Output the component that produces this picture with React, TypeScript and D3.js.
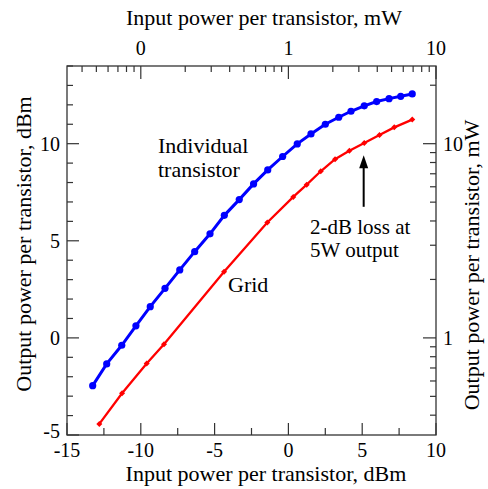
import * as d3 from 'd3'

// Input power (dBm) and output power (dBm)
const individualIn = [-13.26, -12.31, -11.29, -10.33, -9.36, -8.36, -7.36, -6.35, -5.31, -4.34, -3.33, -2.36, -1.4, -0.39, 0.6, 1.53, 2.5, 3.41, 4.24, 5.14, 5.98, 6.82, 7.61, 8.39]
const individualOut = [-2.46, -1.34, -0.38, 0.62, 1.61, 2.55, 3.5, 4.44, 5.36, 6.31, 7.12, 7.93, 8.65, 9.34, 9.99, 10.5, 11.0, 11.36, 11.67, 11.95, 12.17, 12.32, 12.44, 12.56]

const gridIn = [-12.81, -11.27, -9.6, -8.43, -4.36, -1.43, 0.33, 1.24, 2.19, 3.16, 4.13, 5.14, 6.17, 7.17, 8.39]
const gridOut = [-4.43, -2.85, -1.32, -0.33, 3.41, 5.94, 7.26, 7.89, 8.58, 9.2, 9.64, 10.03, 10.45, 10.84, 11.24]

// axis ticks
const dbmXTicks = [-15, -12.5, -10, -7.5, -5, -2.5, 0, 2.5, 5, 7.5, 10]
const dbmXLabels = [-15, -10, -5, 0, 5, 10]
const dbmYTicks = d3.range(-5, 15, 1)
const dbmYLabels = [-5, 0, 5, 10]
const mwTopTicks = [0.04, 0.05, 0.06, 0.07, 0.08, 0.09, 0.1, 0.2, 0.3, 0.4, 0.5, 0.6, 0.7, 0.8, 0.9, 1, 2, 3, 4, 5, 6, 7, 8, 9, 10]
const mwTopLabels = [
  { v: 0.1, t: '0' },
  { v: 1, t: '1' },
  { v: 10, t: '10' },
]
const mwRightTicks = [0.4, 0.5, 0.6, 0.7, 0.8, 0.9, 1, 2, 3, 4, 5, 6, 7, 8, 9, 10, 20]
const mwRightLabels = [1, 10]

// arrow annotation (dBm coords)
const arrowAt = { x: 5.1, from: 6.75, to: 9.4 }

const W = 488
const H = 489
const font = 'Liberation Serif, Times New Roman, serif'
const axisColor = '#333'

export default function App() {
  const left = 67
  const right = 436
  const top = 66
  const bottom = 435

  const x = d3.scaleLinear().domain([-15, 10]).range([left, right])
  const y = d3.scaleLinear().domain([-5, 14]).range([bottom, top])
  const xTop = d3.scaleLog().domain([Math.pow(10, -1.5), 10]).range([left, right])
  const yRight = d3.scaleLog().domain([Math.pow(10, -0.5), Math.pow(10, 1.4)]).range([bottom, top])

  const indPts = individualIn.map((v, i) => [v, individualOut[i]] as [number, number])
  const gridPts = gridIn.map((v, i) => [v, gridOut[i]] as [number, number])

  const line = d3
    .line<[number, number]>()
    .x((d) => x(d[0]))
    .y((d) => y(d[1]))

  const isMajor = (v: number) => Math.abs(Math.log10(v) - Math.round(Math.log10(v))) < 1e-6

  const ax = x(arrowAt.x)
  const ay1 = y(arrowAt.from)
  const ay2 = y(arrowAt.to)

  return (
    <svg
      width={W}
      height={H}
      style={{ position: 'absolute', left: 0, top: 0, background: '#fff' }}
      fontFamily={font}
    >
      <rect x={0} y={0} width={W} height={H} fill="#fff" />

      {/* series */}
      <path d={line(gridPts) || ''} fill="none" stroke="#ff0000" strokeWidth={2.3} />
      {gridPts.map((d, i) => (
        <path
          key={'g' + i}
          d={`M${x(d[0])},${y(d[1]) - 3}L${x(d[0]) + 3},${y(d[1])}L${x(d[0])},${y(d[1]) + 3}L${x(d[0]) - 3},${y(d[1])}Z`}
          fill="#ff0000"
        />
      ))}
      <path d={line(indPts) || ''} fill="none" stroke="#0000ff" strokeWidth={3} />
      {indPts.map((d, i) => (
        <circle key={'b' + i} cx={x(d[0])} cy={y(d[1])} r={3.6} fill="#0000ff" />
      ))}

      {/* frame */}
      <rect x={left} y={top} width={right - left} height={bottom - top} fill="none" stroke={axisColor} strokeWidth={1.3} />

      {/* bottom ticks */}
      {dbmXTicks.map((v) => {
        const len = v % 5 === 0 ? 12 : 7
        return <line key={'bx' + v} x1={x(v)} x2={x(v)} y1={bottom} y2={bottom - len} stroke={axisColor} strokeWidth={1.2} />
      })}
      {dbmXLabels.map((v) => (
        <text key={'bl' + v} x={x(v)} y={457} fontSize={20} textAnchor="middle" fill="#000">
          {v}
        </text>
      ))}

      {/* left ticks */}
      {dbmYTicks.map((v) => {
        const len = v % 5 === 0 ? 12 : 6
        return <line key={'ly' + v} x1={left} x2={left + len} y1={y(v)} y2={y(v)} stroke={axisColor} strokeWidth={1.2} />
      })}
      {dbmYLabels.map((v) => (
        <text key={'ll' + v} x={60} y={y(v) - (v === -5 ? 4 : 0)} dy="0.35em" fontSize={20} textAnchor="end" fill="#000">
          {v}
        </text>
      ))}

      {/* top ticks (mW) */}
      {mwTopTicks.map((v) => {
        const len = isMajor(v) ? 13 : 6
        return <line key={'tx' + v} x1={xTop(v)} x2={xTop(v)} y1={top} y2={top + len} stroke={axisColor} strokeWidth={1.2} />
      })}
      {mwTopLabels.map((d) => (
        <text key={'tl' + d.t} x={xTop(d.v)} y={55} fontSize={20} textAnchor="middle" fill="#000">
          {d.t}
        </text>
      ))}

      {/* right ticks (mW) */}
      {mwRightTicks.map((v) => {
        const len = isMajor(v) ? 13 : 6
        return <line key={'ry' + v} x1={right} x2={right - len} y1={yRight(v)} y2={yRight(v)} stroke={axisColor} strokeWidth={1.2} />
      })}
      {mwRightLabels.map((v) => (
        <text key={'rl' + v} x={443} y={yRight(v)} dy="0.35em" fontSize={20} textAnchor="start" fill="#000">
          {v}
        </text>
      ))}

      {/* axis titles */}
      <text x={264} y={25} fontSize={22} textAnchor="middle" fill="#000">
        Input power per transistor, mW
      </text>
      <text x={266} y={481} fontSize={22} textAnchor="middle" fill="#000">
        Input power per transistor, dBm
      </text>
      <text transform="translate(31,244) rotate(-90)" fontSize={22} textAnchor="middle" fill="#000">
        Output power per transistor, dBm
      </text>
      <text transform="translate(479,265) rotate(-90)" fontSize={22} textAnchor="middle" fill="#000">
        Output power per transistor, mW
      </text>

      {/* annotations */}
      <text x={158} y={153} fontSize={22} fill="#000">
        Individual
      </text>
      <text x={158} y={177} fontSize={22} fill="#000">
        transistor
      </text>
      <text x={228} y={292} fontSize={22} fill="#000">
        Grid
      </text>
      <text x={310} y={234} fontSize={21} fill="#000">
        2-dB loss at
      </text>
      <text x={310} y={257} fontSize={21} fill="#000">
        5W output
      </text>
      <line x1={ax} x2={ax} y1={ay1} y2={ay2 + 10} stroke="#000" strokeWidth={2} />
      <path d={`M${ax},${ay2}L${ax - 4.5},${ay2 + 13}L${ax + 4.5},${ay2 + 13}Z`} fill="#000" />
    </svg>
  )
}
